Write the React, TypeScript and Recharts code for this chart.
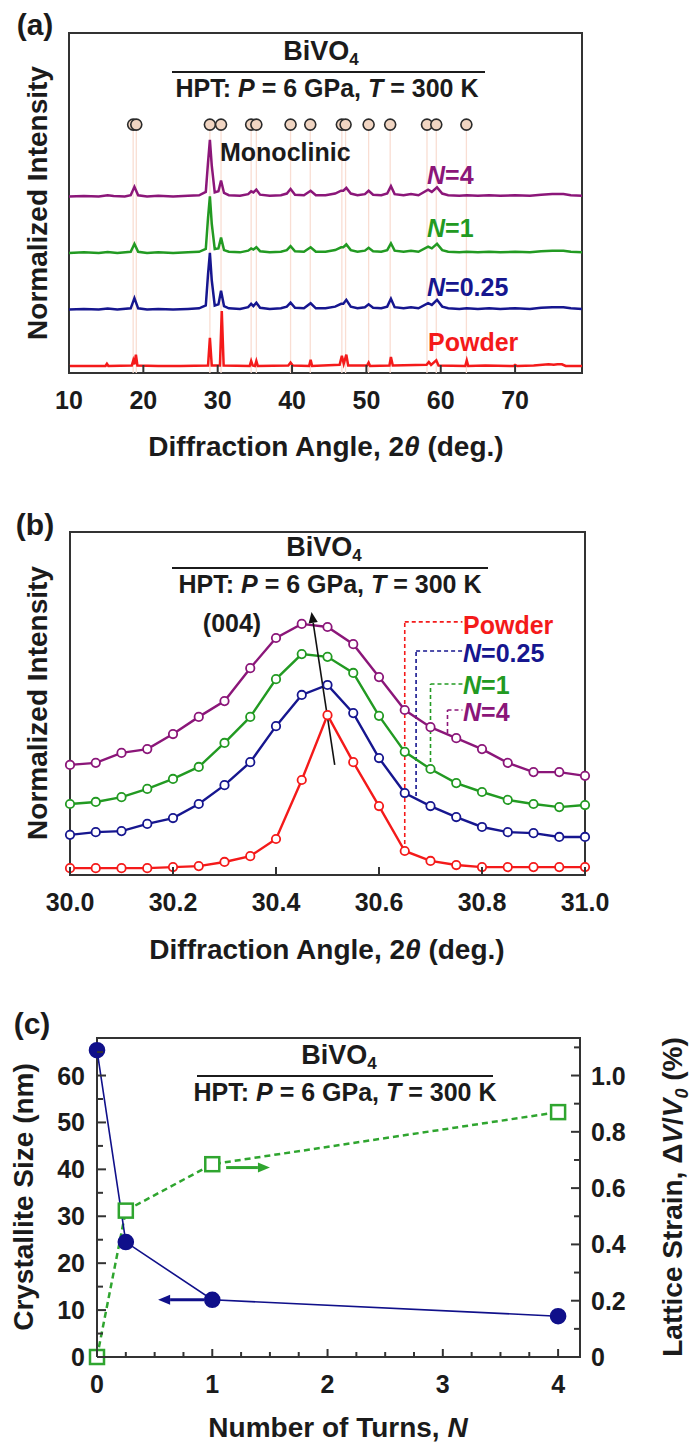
import React from 'react';
import {
  ComposedChart,
  Line,
  Scatter,
  XAxis,
  YAxis,
  ReferenceLine,
  ReferenceArea,
} from 'recharts';

const FONT = '"Liberation Sans", Arial, Helvetica, sans-serif';
const INK = '#1b1b1b';
const FRAME = '#333333';
const PURPLE = '#8b1679';
const GREEN = '#229a22';
const BLUE = '#16168f';
const RED = '#f41a1a';
const NAVY = '#10108a';
const STRAIN_GREEN = '#2fa52f';
const PEAK_PINK = '#f9ded3';

// ---- (a) full XRD patterns, [2θ, normalized intensity] ----
const powderPattern: [number, number][] = [
  [10, 0], [13, 0], [14.9, 0], [15.1, 0.04], [15.3, 0], [18.45, 0.01], [18.65, 0.1], [18.8, 0.03],
  [19.0, 0.2], [19.2, 0.01], [22, 0], [25, 0], [28.7, 0.01], [28.95, 0.5], [29.2, 0.01], [30.3, 0.01],
  [30.55, 0.97], [30.8, 0.01], [34.3, 0], [34.5, 0.09], [34.7, 0.01], [35.0, 0], [35.2, 0.09], [35.4, 0],
  [39.5, 0.01], [39.8, 0.06], [40.1, 0.01], [42.3, 0], [42.5, 0.11], [42.7, 0], [46.4, 0.02], [46.7, 0.18],
  [46.95, 0.04], [47.3, 0.2], [47.55, 0.01], [50.1, 0.01], [50.3, 0.06], [50.5, 0], [53.1, 0.01],
  [53.3, 0.16], [53.55, 0.01], [58.1, 0.02], [58.4, 0.07], [58.7, 0.02], [59.4, 0.1], [59.7, 0.01],
  [63.3, 0], [63.5, 0.1], [63.7, 0], [66, 0.01], [69.8, 0], [70.0, 0.02], [70.3, 0], [72.5, 0.01],
  [74.5, 0.03], [75.2, 0.02], [75.7, 0.03], [76.3, 0.03], [76.8, 0], [79, 0],
];

const quarterTurnPattern: [number, number][] = [
  [10, 0], [12, 0.01], [14, 0], [15.2, 0.015], [16.5, 0], [18.3, 0.02], [18.8, 0.2], [19.3, 0.02],
  [20.5, 0], [22, 0.01], [24, 0], [26, 0.01], [27.5, 0.02], [28.4, 0.07], [28.7, 0.62], [28.95, 1.0],
  [29.2, 0.52], [29.6, 0.07], [30.1, 0.09], [30.45, 0.33], [30.85, 0.06], [31.5, 0.02], [33, 0.01],
  [34.1, 0.04], [34.5, 0.1], [34.8, 0.06], [35.2, 0.12], [35.7, 0.03], [37, 0.01], [38.5, 0.02],
  [39.3, 0.05], [39.8, 0.12], [40.4, 0.03], [41.6, 0.02], [42.5, 0.11], [43.2, 0.02], [44.5, 0.02],
  [45.8, 0.05], [46.6, 0.1], [46.9, 0.1], [47.3, 0.17], [47.9, 0.05], [48.8, 0.02], [49.8, 0.04],
  [50.3, 0.09], [50.9, 0.03], [52, 0.02], [52.8, 0.05], [53.3, 0.19], [53.8, 0.04], [55, 0.02],
  [56, 0.04], [57, 0.02], [58.3, 0.11], [58.8, 0.08], [59.5, 0.17], [60.2, 0.05], [61, 0.02],
  [62.5, 0.01], [63.5, 0.02], [65, 0.01], [66.5, 0.02], [68, 0.01], [70, 0.02], [72, 0.01],
  [73.5, 0.03], [75, 0.04], [76.5, 0.04], [77.5, 0.02], [79, 0.01],
];

const oneTurnPattern: [number, number][] = [
  [10, 0], [12, 0.01], [14, 0], [15.2, 0.015], [16.5, 0], [18.3, 0.02], [18.8, 0.16], [19.3, 0.02],
  [20.5, 0], [22, 0.01], [24, 0], [26, 0.01], [27.5, 0.02], [28.4, 0.07], [28.7, 0.62], [28.95, 1.0],
  [29.2, 0.52], [29.6, 0.07], [30.1, 0.08], [30.45, 0.27], [30.85, 0.05], [31.5, 0.02], [33, 0.01],
  [34.1, 0.04], [34.5, 0.08], [34.8, 0.06], [35.2, 0.1], [35.7, 0.03], [37, 0.01], [38.5, 0.02],
  [39.3, 0.05], [39.8, 0.12], [40.4, 0.03], [41.6, 0.02], [42.5, 0.1], [43.2, 0.02], [44.5, 0.02],
  [45.8, 0.05], [46.6, 0.1], [46.9, 0.1], [47.3, 0.15], [47.9, 0.05], [48.8, 0.02], [49.8, 0.04],
  [50.3, 0.09], [50.9, 0.03], [52, 0.02], [52.8, 0.05], [53.3, 0.17], [53.8, 0.04], [55, 0.02],
  [56, 0.04], [57, 0.02], [58.3, 0.11], [58.8, 0.08], [59.5, 0.16], [60.2, 0.05], [61, 0.02],
  [62.5, 0.01], [63.5, 0.02], [65, 0.01], [66.5, 0.02], [68, 0.01], [70, 0.02], [72, 0.01],
  [73.5, 0.03], [75, 0.04], [76.5, 0.04], [77.5, 0.02], [79, 0.01],
];

const fourTurnPattern: [number, number][] = [
  [10, 0], [12, 0.005], [14, 0], [15.2, 0.02], [16, 0.005], [17.5, 0], [18.3, 0.02], [18.8, 0.17],
  [19.3, 0.02], [20.5, 0], [22, 0.01], [24, 0], [26, 0.01], [27.5, 0.02], [28.4, 0.08], [28.7, 0.6],
  [28.95, 1.0], [29.2, 0.55], [29.6, 0.07], [30.1, 0.09], [30.45, 0.28], [30.85, 0.06], [31.5, 0.02],
  [33, 0.01], [34.1, 0.04], [34.5, 0.09], [34.8, 0.07], [35.2, 0.12], [35.7, 0.03], [37, 0.01],
  [38.5, 0.02], [39.3, 0.05], [39.8, 0.13], [40.4, 0.03], [41.6, 0.02], [42.5, 0.1], [43.2, 0.02],
  [44.5, 0.02], [45.8, 0.05], [46.6, 0.1], [46.9, 0.1], [47.3, 0.15], [47.9, 0.05], [48.8, 0.02],
  [49.8, 0.04], [50.3, 0.1], [50.9, 0.03], [52, 0.02], [52.8, 0.05], [53.3, 0.18], [53.8, 0.04],
  [55, 0.02], [56, 0.04], [57, 0.02], [58.3, 0.12], [58.8, 0.08], [59.5, 0.16], [60.2, 0.05],
  [61, 0.02], [62.5, 0.01], [63.5, 0.02], [65, 0.01], [66.5, 0.02], [68, 0.01], [70, 0.02],
  [72, 0.01], [73.5, 0.03], [75, 0.04], [76.5, 0.04], [77.5, 0.02], [79, 0.01],
];

// vertical stacking of the patterns (powder at the bottom)
const patternOffsets = [0, 1, 2, 3];
const monoclinicPeaks = [
  18.63, 19.05, 28.95, 30.45, 34.5, 35.2, 39.8, 42.45, 46.7, 47.2, 50.3, 53.2, 58.15, 59.4, 63.45,
];
const markerLevel = 4.27;
const yDomainA: [number, number] = [-0.124, 5.89];
const xDomainA: [number, number] = [10, 79];
const xTicksA = [10, 20, 30, 40, 50, 60, 70];

// ---- (b) (004) reflection, intensity in plot units ----
const angle004 = [
  30.0, 30.05, 30.1, 30.15, 30.2, 30.25, 30.3, 30.35, 30.4, 30.45, 30.5,
  30.55, 30.6, 30.65, 30.7, 30.75, 30.8, 30.85, 30.9, 30.95, 31.0,
];
const powder004 = [
  0.2, 0.2, 0.2, 0.2, 0.23, 0.26, 0.38, 0.55, 1.05, 2.77, 4.66,
  3.29, 2.01, 0.7, 0.41, 0.29, 0.23, 0.23, 0.23, 0.23, 0.23,
];
const quarter004 = [
  1.17, 1.25, 1.28, 1.49, 1.66, 2.07, 2.62, 3.29, 4.34, 5.25, 5.54,
  4.72, 3.41, 2.39, 2.01, 1.69, 1.4, 1.25, 1.22, 1.11, 1.11,
];
const one004 = [
  2.07, 2.13, 2.27, 2.51, 2.8, 3.15, 3.85, 4.61, 5.71, 6.44, 6.36,
  5.89, 4.64, 3.59, 3.09, 2.68, 2.42, 2.19, 2.07, 1.98, 2.04,
];
const four004 = [
  3.21, 3.27, 3.56, 3.67, 4.11, 4.61, 5.07, 6.03, 6.91, 7.32, 7.23,
  6.73, 5.77, 4.81, 4.31, 3.99, 3.67, 3.27, 3.0, 3.0, 2.89,
];
const xTicksB = [30.0, 30.2, 30.4, 30.6, 30.8, 31.0];

// ---- (c) crystallite size and lattice strain vs. turns ----
const turns = [0, 0.25, 1, 4];
const crystalliteSize = [65.4, 24.5, 12.2, 8.7];
const latticeStrain = [0, 0.52, 0.685, 0.87];
const sizeTicks = [0, 5, 10, 15, 20, 25, 30, 35, 40, 45, 50, 55, 60, 65];
const strainTicks = [0, 0.1, 0.2, 0.3, 0.4, 0.5, 0.6, 0.7, 0.8, 0.9, 1.0, 1.1];
const turnTicks = [
  0, 0.25, 0.5, 0.75, 1, 1.25, 1.5, 1.75, 2, 2.25, 2.5, 2.75, 3, 3.25, 3.5, 3.75, 4,
];

const toRows = (pts: [number, number][], offset: number) =>
  pts.map(([x, y]) => ({ x, y: y + offset }));
const zipRows = (xs: number[], ys: number[]) => xs.map((x, i) => ({ x, y: ys[i] }));

const tickText = { fontFamily: FONT, fontWeight: 700, fontSize: 25, fill: INK };

const bottomTick = (labelled: (v: number) => boolean, fmt: (v: number) => string) =>
  (props: any) => {
    const { x, y, payload } = props;
    const v = payload.value as number;
    const major = labelled(v);
    return (
      <g>
        <line x1={x} y1={y} x2={x} y2={y - (major ? 8 : 5)} stroke={FRAME} strokeWidth={2} />
        {major && (
          <text x={x} y={y + 36} textAnchor="middle" {...tickText}>
            {fmt(v)}
          </text>
        )}
      </g>
    );
  };

const leftTick = (labelled: (v: number) => boolean, fmt: (v: number) => string) =>
  (props: any) => {
    const { x, y, payload } = props;
    const v = payload.value as number;
    const major = labelled(v);
    return (
      <g>
        <line x1={x} y1={y} x2={x + (major ? 9 : 6)} y2={y} stroke={FRAME} strokeWidth={2} />
        {major && (
          <text x={x - 12} y={y + 9} textAnchor="end" {...tickText}>
            {fmt(v)}
          </text>
        )}
      </g>
    );
  };

const rightTick = (labelled: (v: number) => boolean, fmt: (v: number) => string) =>
  (props: any) => {
    const { x, y, payload } = props;
    const v = payload.value as number;
    const major = labelled(v);
    return (
      <g>
        <line x1={x} y1={y} x2={x - (major ? 9 : 6)} y2={y} stroke={FRAME} strokeWidth={2} />
        {major && (
          <text x={x + 11} y={y + 9} textAnchor="start" {...tickText}>
            {fmt(v)}
          </text>
        )}
      </g>
    );
  };

// line with a filled head at its second end point
const arrowShape = (color: string, width: number, head: number) => (props: any) => {
  const { x1, y1, x2, y2 } = props;
  const ang = Math.atan2(y2 - y1, x2 - x1);
  const bx = x2 - head * Math.cos(ang);
  const by = y2 - head * Math.sin(ang);
  const hw = head * 0.42;
  const px = -Math.sin(ang) * hw;
  const py = Math.cos(ang) * hw;
  return (
    <g>
      <line x1={x1} y1={y1} x2={bx} y2={by} stroke={color} strokeWidth={width} />
      <polygon points={`${x2},${y2} ${bx + px},${by + py} ${bx - px},${by - py}`} fill={color} />
    </g>
  );
};

const openCircle = (color: string) => (p: any) => (
  <circle key={p.index} cx={p.cx} cy={p.cy} r={4.2} fill="#fff" stroke={color} strokeWidth={1.8} />
);

const openSquare = (p: any) => (
  <rect key={p.index} x={p.cx - 7} y={p.cy - 7} width={14} height={14} fill="#fff"
    stroke={STRAIN_GREEN} strokeWidth={2.5} />
);

const Label = ({ x, y, size = 25, color = INK, anchor = 'middle', rotate, children }: {
  x: number; y: number; size?: number; color?: string;
  anchor?: 'start' | 'middle'; rotate?: number; children: React.ReactNode;
}) => (
  <div
    style={{
      position: 'absolute',
      left: x,
      top: y,
      transform: `translate(${anchor === 'middle' ? '-50%' : '0'}, -50%)${rotate ? ` rotate(${rotate}deg)` : ''}`,
      whiteSpace: 'nowrap',
      fontFamily: FONT,
      fontWeight: 700,
      fontSize: size,
      color,
      lineHeight: 1,
    }}
  >
    {children}
  </div>
);

const Rule = ({ x1, x2, y }: { x1: number; x2: number; y: number }) => (
  <div style={{ position: 'absolute', left: x1, top: y - 1, width: x2 - x1, height: 2, background: INK }} />
);

const Header = ({ cx, y, x1, x2 }: { cx: number; y: number; x1: number; x2: number }) => (
  <>
    <Label x={cx - 6} y={y - 19} size={27}>
      BiVO<sub style={{ fontSize: 17, verticalAlign: '-0.3em' }}>4</sub>
    </Label>
    <Rule x1={x1} x2={x2} y={y} />
    <Label x={cx} y={y + 16}>
      HPT: <i>P</i> = 6 GPa, <i>T</i> = 300 K
    </Label>
  </>
);

const App = () => {
  const xrdSeries = [
    { pts: powderPattern, color: RED },
    { pts: quarterTurnPattern, color: BLUE },
    { pts: oneTurnPattern, color: GREEN },
    { pts: fourTurnPattern, color: PURPLE },
  ];
  const peakSeries = [
    { ys: powder004, color: RED },
    { ys: quarter004, color: BLUE },
    { ys: one004, color: GREEN },
    { ys: four004, color: PURPLE },
  ];
  // leader lines from each (004) curve to its label
  const leaders = [
    { x: 30.65, yLow: 0.7, yHigh: 7.38, color: RED },
    { x: 30.672, yLow: 2.3, yHigh: 6.53, color: BLUE },
    { x: 30.7, yLow: 3.09, yHigh: 5.57, color: GREEN },
    { x: 30.733, yLow: 4.14, yHigh: 4.81, color: PURPLE },
  ];
  const sizeRows = turns.map((n, i) => ({ n, size: crystalliteSize[i] }));
  const strainRows = turns.map((n, i) => ({ n, strain: latticeStrain[i] }));

  return (
    <div style={{ position: 'absolute', left: 0, top: 0, width: 691, height: 1443, background: '#fff' }}>
      {/* (a) */}
      <div style={{ position: 'absolute', left: 0, top: 0 }}>
        <ComposedChart width={691} height={470} margin={{ top: 33, right: 109, bottom: 0, left: 69 }}>
          <XAxis type="number" dataKey="x" domain={xDomainA} ticks={xTicksA} interval={0} height={97}
            axisLine={false} tickLine={false} tickSize={0} tickMargin={0} allowDataOverflow
            tick={bottomTick(() => true, (v) => String(v))} />
          <YAxis type="number" dataKey="y" domain={yDomainA} hide allowDataOverflow />
          {monoclinicPeaks.map((p) => (
            <ReferenceLine key={p} segment={[{ x: p, y: yDomainA[0] }, { x: p, y: markerLevel - 0.1 }]}
              stroke={PEAK_PINK} strokeWidth={1.3} />
          ))}
          {xrdSeries.map((s, i) => (
            <Line key={i} data={toRows(s.pts, patternOffsets[i])} dataKey="y" type="linear"
              stroke={s.color} strokeWidth={2.5} dot={false} isAnimationActive={false} />
          ))}
          <Scatter data={monoclinicPeaks.map((p) => ({ x: p, y: markerLevel }))} dataKey="y"
            isAnimationActive={false}
            shape={(p: any) => (
              <circle cx={p.cx} cy={p.cy} r={5.5} fill="#f1d5c2" stroke="#2b2b2b" strokeWidth={1.6} />
            )} />
          <ReferenceArea x1={xDomainA[0]} x2={xDomainA[1]} y1={yDomainA[0]} y2={yDomainA[1]}
            fill="none" stroke={FRAME} strokeWidth={2} fillOpacity={0} ifOverflow="visible" />
        </ComposedChart>
      </div>

      {/* (b) */}
      <div style={{ position: 'absolute', left: 0, top: 480 }}>
        <ComposedChart width={691} height={490} margin={{ top: 52, right: 106, bottom: 0, left: 70 }}>
          <XAxis type="number" dataKey="x" domain={[30, 31]} ticks={xTicksB} interval={0} height={95}
            axisLine={false} tickLine={false} tickSize={0} tickMargin={0}
            tick={bottomTick(() => true, (v) => v.toFixed(1))} />
          <YAxis type="number" dataKey="y" domain={[0, 10]} hide />
          {leaders.map((l, i) => (
            <ReferenceLine key={`v${i}`} segment={[{ x: l.x, y: l.yLow }, { x: l.x, y: l.yHigh }]}
              stroke={l.color} strokeWidth={1.6} strokeDasharray="4 3" />
          ))}
          {leaders.map((l, i) => (
            <ReferenceLine key={`h${i}`} segment={[{ x: l.x, y: l.yHigh }, { x: 30.762, y: l.yHigh }]}
              stroke={l.color} strokeWidth={1.6} strokeDasharray="4 3" />
          ))}
          {peakSeries.map((s, i) => (
            <Line key={i} data={zipRows(angle004, s.ys)} dataKey="y" type="linear" stroke={s.color}
              strokeWidth={2.4} dot={openCircle(s.color)} isAnimationActive={false} />
          ))}
          <ReferenceLine segment={[{ x: 30.514, y: 3.21 }, { x: 30.469, y: 7.67 }]}
            shape={arrowShape('#111', 1.6, 11)} />
          <ReferenceArea x1={30} x2={31} y1={0} y2={10} fill="none" fillOpacity={0}
            stroke={FRAME} strokeWidth={2} ifOverflow="visible" />
        </ComposedChart>
      </div>

      {/* (c) */}
      <div style={{ position: 'absolute', left: 0, top: 970 }}>
        <ComposedChart width={691} height={473} margin={{ top: 68, right: 0, bottom: 0, left: 0 }}>
          <XAxis type="number" dataKey="n" domain={[0, 4.19]} ticks={turnTicks} interval={0} height={86}
            axisLine={false} tickLine={false} tickSize={0} tickMargin={0}
            tick={bottomTick((v) => Number.isInteger(v), (v) => String(v))} />
          <YAxis yAxisId="left" type="number" domain={[0, 68]} ticks={sizeTicks} interval={0} width={97}
            axisLine={false} tickLine={false} tickSize={0} tickMargin={0}
            tick={leftTick((v) => v % 10 === 0, (v) => String(v))} />
          <YAxis yAxisId="right" orientation="right" type="number" domain={[0, 68 / 60]}
            ticks={strainTicks} interval={0} width={111}
            axisLine={false} tickLine={false} tickSize={0} tickMargin={0}
            tick={rightTick((v) => Math.round(v * 10) % 2 === 0, (v) => (v === 0 ? '0' : v.toFixed(1)))} />
          <Line yAxisId="right" data={strainRows} dataKey="strain" type="linear" stroke={STRAIN_GREEN}
            strokeWidth={2.5} strokeDasharray="6 4" dot={openSquare} isAnimationActive={false} />
          <Line yAxisId="left" data={sizeRows} dataKey="size" type="linear" stroke={NAVY}
            strokeWidth={1.6} dot={{ r: 7.5, fill: NAVY, stroke: NAVY }} isAnimationActive={false} />
          <ReferenceLine yAxisId="left" segment={[{ x: 0.93, y: 12.2 }, { x: 0.53, y: 12.2 }]}
            shape={arrowShape(NAVY, 3, 12)} />
          <ReferenceLine yAxisId="right" segment={[{ x: 1.12, y: 0.673 }, { x: 1.5, y: 0.673 }]}
            shape={arrowShape(STRAIN_GREEN, 3, 12)} />
          <ReferenceArea yAxisId="left" x1={0} x2={4.19} y1={0} y2={68} fill="none" fillOpacity={0}
            stroke={FRAME} strokeWidth={2} ifOverflow="visible" />
        </ComposedChart>
      </div>

      {/* panel letters */}
      <Label x={35} y={25} size={30}>(a)</Label>
      <Label x={35} y={525} size={30}>(b)</Label>
      <Label x={32} y={1024} size={30}>(c)</Label>

      {/* (a) text */}
      <Header cx={327} y={72} x1={172} x2={485} />
      <Label x={220} y={152} anchor="start">Monoclinic</Label>
      <Label x={427} y={175} anchor="start" color={PURPLE}><i>N</i>=4</Label>
      <Label x={427} y={228} anchor="start" color={GREEN}><i>N</i>=1</Label>
      <Label x={427} y={287} anchor="start" color={BLUE}><i>N</i>=0.25</Label>
      <Label x={428} y={342} anchor="start" color={RED}>Powder</Label>
      <Label x={326} y={447} size={28}>Diffraction Angle, 2<i>θ</i> (deg.)</Label>
      <Label x={38} y={203} size={28} rotate={-90}>Normalized Intensity</Label>

      {/* (b) text */}
      <Header cx={330} y={568} x1={172} x2={488} />
      <Label x={232} y={623}>(004)</Label>
      <Label x={463} y={625} anchor="start" color={RED}>Powder</Label>
      <Label x={463} y={653} anchor="start" color={BLUE}><i>N</i>=0.25</Label>
      <Label x={463} y={685} anchor="start" color={GREEN}><i>N</i>=1</Label>
      <Label x={463} y={712} anchor="start" color={PURPLE}><i>N</i>=4</Label>
      <Label x={327} y={950} size={28}>Diffraction Angle, 2<i>θ</i> (deg.)</Label>
      <Label x={38} y={703} size={28} rotate={-90}>Normalized Intensity</Label>

      {/* (c) text */}
      <Header cx={345} y={1076} x1={197} x2={493} />
      <Label x={338} y={1428} size={28}>Number of Turns, <i>N</i></Label>
      <Label x={24} y={1197} size={28} rotate={-90}>Crystallite Size (nm)</Label>
      <Label x={675} y={1197} size={28} rotate={-90}>
        Lattice Strain, Δ<i>V</i>/<i>V</i><sub style={{ fontSize: 18, verticalAlign: '-0.3em' }}><i>0</i></sub> (%)
      </Label>
    </div>
  );
};

export default App;
